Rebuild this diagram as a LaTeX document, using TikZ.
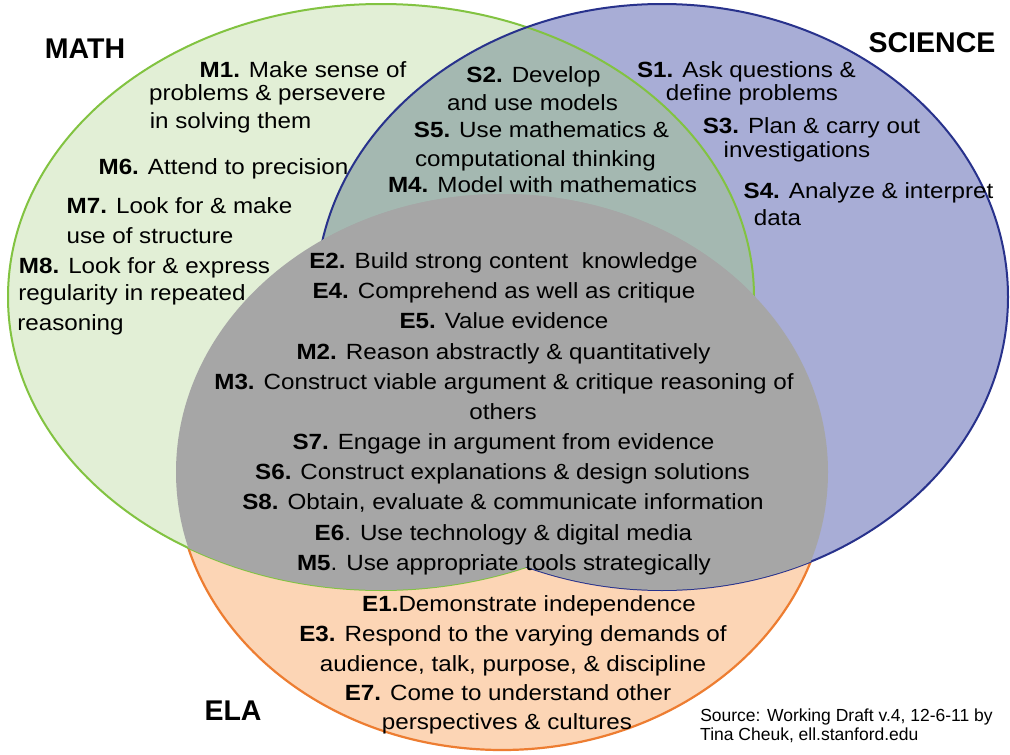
\documentclass[tikz,border=0pt]{standalone}
\usepackage{fontspec}
\setmainfont{Liberation Sans}[FakeStretch=1.1]
\newfontfamily\headfont{Liberation Sans}
\newfontfamily\srcfont{Liberation Sans}

\definecolor{mathfill}{RGB}{226,239,214}
\definecolor{scifill}{RGB}{168,173,214}
\definecolor{elafill}{RGB}{252,213,181}
\definecolor{msfill}{RGB}{164,184,177}
\definecolor{corefill}{RGB}{166,166,166}
\definecolor{mathline}{RGB}{130,195,65}
\definecolor{sciline}{RGB}{40,50,140}
\definecolor{elaline}{RGB}{237,125,49}

% the three circles of the diagram
\def\mathE{(381,297) ellipse [x radius=373pt, y radius=293pt]}
\def\sciE{(662,297) ellipse [x radius=346pt, y radius=293pt]}
\def\elaE{(502,472) ellipse [x radius=326pt, y radius=278pt]}

\tikzset{
  txt/.style={inner sep=0pt, anchor=base, font=\fontsize{22}{26}\selectfont},
  head/.style={inner sep=0pt, anchor=base, font=\headfont\bfseries\fontsize{28.5}{32}\selectfont},
  src/.style={inner sep=0pt, anchor=base, font=\srcfont\fontsize{17.5}{20}\selectfont},
}

\begin{document}
\begin{tikzpicture}[x=1pt, y=-1pt]
\useasboundingbox[fill=white] (0,0) rectangle (1010,755);

% ELA area and its outline
\fill[elafill] \elaE;
\draw[elaline, line width=2.2pt] \elaE;

% MATH and SCIENCE areas cover the ELA outline inside them
\fill[mathfill] \mathE;
\fill[scifill] \sciE;
\begin{scope}
  \clip \mathE;
  \fill[msfill] \sciE;
\end{scope}
\draw[mathline, line width=2pt] \mathE;
\draw[sciline, line width=2pt] \sciE;

% shared core: ELA together with MATH or SCIENCE
\begin{scope}
  \clip \elaE;
  \fill[corefill] \mathE;
  \fill[corefill] \sciE;
\end{scope}

% headings
\node[head] (hmath) at (85,58) {MATH};
\node[head] (hsci) at (932,52) {SCIENCE};
\node[head] (hela) at (233,720) {ELA};

% MATH only
\node[txt] (m1a) at (303,77) {\textbf{M1.} Make sense of};
\node[txt] (m1b) at (267.5,100) {problems \& persevere};
\node[txt] (m1c) at (230.5,128) {in solving them};
\node[txt] (m6) at (223.5,174) {\textbf{M6.} Attend to precision};
\node[txt] (m7a) at (179.5,213) {\textbf{M7.} Look for \& make};
\node[txt] (m7b) at (150,243) {use of structure};
\node[txt] (m8a) at (144.5,273) {\textbf{M8.} Look for \& express};
\node[txt] (m8b) at (132,300) {regularity in repeated};
\node[txt] (m8c) at (70.5,330) {reasoning};

% MATH and SCIENCE
\node[txt] (s2a) at (533.5,82) {\textbf{S2.} Develop};
\node[txt] (s2b) at (532.5,110) {and use models};
\node[txt] (s5a) at (541.5,137) {\textbf{S5.} Use mathematics \&};
\node[txt] (s5b) at (535.5,166) {computational thinking};
\node[txt] (m4) at (542.5,192) {\textbf{M4.} Model with mathematics};

% SCIENCE only
\node[txt] (s1a) at (746.5,77) {\textbf{S1.} Ask questions \&};
\node[txt] (s1b) at (752,100) {define problems};
\node[txt] (s3a) at (811.5,133) {\textbf{S3.} Plan \& carry out};
\node[txt] (s3b) at (797,157) {investigations};
\node[txt] (s4a) at (868.5,198) {\textbf{S4.} Analyze \& interpret};
\node[txt] (s4b) at (777.5,225) {data};

% shared core
\node[txt] (e2) at (503.5,268) {\textbf{E2.} Build strong content~ knowledge};
\node[txt] (e4) at (504,298) {\textbf{E4.} Comprehend as well as critique};
\node[txt] (e5) at (504,328) {\textbf{E5.} Value evidence};
\node[txt] (m2) at (503.5,359) {\textbf{M2.} Reason abstractly \& quantitatively};
\node[txt] (m3a) at (504,389) {\textbf{M3.} Construct viable argument \& critique reasoning of};
\node[txt] (m3b) at (503,419) {others};
\node[txt] (s7) at (503.5,449) {\textbf{S7.} Engage in argument from evidence};
\node[txt] (s6) at (502.5,479) {\textbf{S6.} Construct explanations \& design solutions};
\node[txt] (s8) at (503,509) {\textbf{S8.} Obtain, evaluate \& communicate information};
\node[txt] (e6) at (503.5,540) {\textbf{E6}. Use technology \& digital media};
\node[txt] (m5) at (504,570) {\textbf{M5}. Use appropriate tools strategically};

% ELA only
\node[txt] (e1) at (529,611) {\textbf{E1.}Demonstrate independence};
\node[txt] (e3a) at (513,641) {\textbf{E3.} Respond to the varying demands of};
\node[txt] (e3b) at (513,671) {audience, talk, purpose, \& discipline};
\node[txt] (e7a) at (508,700) {\textbf{E7.} Come to understand other};
\node[txt] (e7b) at (507,729) {perspectives \& cultures};

% source note
\node[src] (src1) at (846.5,721) {Source: Working Draft v.4, 12-6-11 by};
\node[src, anchor=base west] (src2) at (700,740) {Tina Cheuk, ell.stanford.edu};
\end{tikzpicture}
\end{document}
